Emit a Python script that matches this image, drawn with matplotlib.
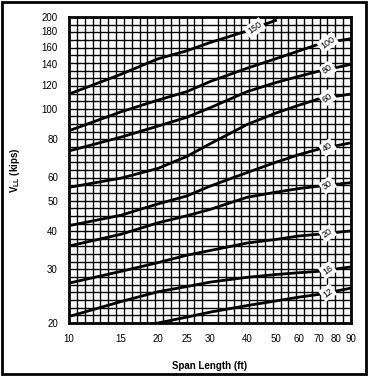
import numpy as np
import matplotlib
matplotlib.use("Agg")
import matplotlib.pyplot as plt
from matplotlib.patches import Rectangle
from matplotlib.ticker import FixedLocator, NullFormatter

plt.rcParams["font.family"] = ["Liberation Sans", "DejaVu Sans"]

span = [10, 15, 20, 25, 30, 40, 50, 60, 70, 90]

# live load shear (kips) for each curve
v100 = [85, 98, 107, 114, 123, 136, 146, 155, 163, 170]
v80 = [73, 81, 88, 94, 101, 114, 122, 128, 133, 140]
v60 = [55.5, 59.5, 64, 70, 77, 89, 97, 103, 108, 112]
v40 = [41.6, 45, 49, 52, 56, 62, 67, 71, 74, 77.6]
v30 = [35.7, 39, 42.5, 44.8, 47, 51.5, 53.5, 55, 56, 57.5]
v20 = [27, 29.5, 31.5, 33.3, 34.5, 36.5, 37.5, 38.5, 39, 40]
v16 = [21, 23.5, 25.3, 26.3, 27.2, 28.2, 28.8, 29.2, 29.5, 30.5]

span150 = [10, 15, 20, 25, 30, 40, 50]
v150 = [112, 130, 146, 155, 165, 180, 195]

span12 = [19, 20, 25, 30, 40, 50, 60, 70, 90]
v12 = [19.8, 20, 20.9, 21.7, 22.8, 23.6, 24.3, 24.8, 26]

curves = [
    ("150", span150, v150, 42.5),
    ("100", span, v100, 75),
    ("80", span, v80, 75),
    ("60", span, v60, 75),
    ("40", span, v40, 75),
    ("30", span, v30, 75),
    ("20", span, v20, 75),
    ("16", span, v16, 75),
    ("12", span12, v12, 75),
]

x_ticks = [10, 15, 20, 25, 30, 40, 50, 60, 70, 80, 90]
y_ticks = [20, 30, 40, 50, 60, 80, 100, 120, 140, 160, 180, 200]

fig = plt.figure(figsize=(3.71, 3.76), dpi=100)
ax = fig.add_axes([69 / 371, 1 - 323 / 376, 282 / 371, 306 / 376])
ax.set_xscale("log")
ax.set_yscale("log")
ax.set_xlim(10, 90)
ax.set_ylim(20, 200)

# chart paper grid, roughly even spacing (~8 px) in both directions
ax.xaxis.set_minor_locator(FixedLocator(np.geomspace(10, 90, 37)))
ax.yaxis.set_minor_locator(FixedLocator(np.geomspace(20, 200, 41)))
ax.xaxis.set_minor_formatter(NullFormatter())
ax.yaxis.set_minor_formatter(NullFormatter())
ax.grid(which="minor", color="black", linewidth=1.0)
ax.set_axisbelow(True)

ax.set_xticks(x_ticks)
ax.set_xticklabels([str(t) for t in x_ticks])
ax.set_yticks(y_ticks)
ax.set_yticklabels([str(t) for t in y_ticks])
ax.tick_params(which="both", length=0, labelsize=7, pad=8)

for spine in ax.spines.values():
    spine.set_linewidth(2)

for name, xs, ys, xlab in curves:
    ax.plot(xs, ys, color="black", linewidth=2.0, zorder=3)
    ylab = np.interp(np.log(xlab), np.log(xs), np.log(ys))
    ax.text(xlab, np.exp(ylab), name, fontsize=6.5, rotation=35,
            ha="center", va="center", zorder=4,
            bbox=dict(facecolor="white", edgecolor="none", pad=1.5))

ax.set_xlabel("Span Length (ft)", fontsize=7, fontweight="bold", labelpad=12)
ax.set_ylabel(r"V$_{\mathregular{LL}}$ (kips)", fontsize=7, fontweight="bold",
              labelpad=14)

# frame around the whole picture
fig.patches.append(Rectangle((2 / 371, 2 / 376), 364 / 371, 372 / 376,
                             transform=fig.transFigure, fill=False,
                             edgecolor="black", linewidth=2))

fig.savefig("out.png", dpi=100)
